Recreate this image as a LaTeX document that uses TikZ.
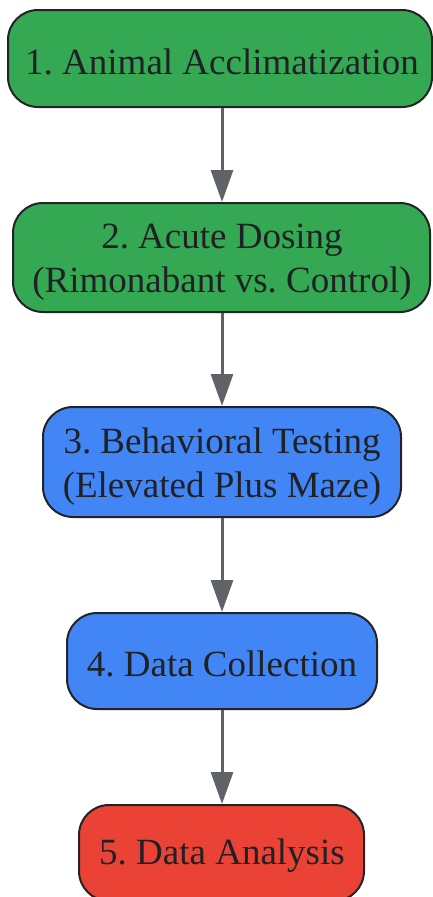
\documentclass[tikz,border=0pt]{standalone}
\usepackage{fontspec}
\setmainfont{Liberation Serif}
\frenchspacing
\usetikzlibrary{arrows.meta}
\definecolor{stepgreen}{HTML}{34A853}
\definecolor{stepblue}{HTML}{4285F4}
\definecolor{stepred}{HTML}{EA4335}
\definecolor{edgedark}{HTML}{222326}
\definecolor{arrowgray}{HTML}{5F6368}
\definecolor{textdark}{HTML}{202124}
\tikzset{
  stepbox/.style={draw=edgedark, line width=2pt, rounded corners=30pt,
    inner sep=0pt},
  steptext/.style={inner sep=0pt, align=center, text=textdark,
    font=\fontsize{37}{44}\selectfont},
  flowarrow/.style={draw=arrowgray, line width=3pt,
    -{Triangle[width=22pt,length=32pt]}}
}
\begin{document}
\begin{tikzpicture}[x=1pt,y=1pt]
\useasboundingbox (0,0) rectangle (433,-897);
\clip (0,0) rectangle (433,-897);
\node[stepbox, fill=stepgreen, minimum width=424pt, minimum height=97pt] (n1) at (220,-58.5) {};
\node[stepbox, fill=stepgreen, minimum width=417pt, minimum height=109pt] (n2) at (221.5,-257.5) {};
\node[stepbox, fill=stepblue, minimum width=358pt, minimum height=110pt] (n3) at (222,-462) {};
\node[stepbox, fill=stepblue, minimum width=310pt, minimum height=96pt] (n4) at (222,-661) {};
\node[stepbox, fill=stepred, minimum width=285pt, minimum height=96pt] (n5) at (221.5,-853) {};
\node[steptext] (t1) at ([yshift=-3pt]n1.center -| 222,0) {1. Animal Acclimatization};
\node[steptext] (t2) at ([yshift=-5pt]n2.center -| 222,0) {2. Acute Dosing\\(Rimonabant vs. Control)};
\node[steptext] (t3) at ([yshift=-5pt]n3.center -| 222,0) {3. Behavioral Testing\\(Elevated Plus Maze)};
\node[steptext] (t4) at ([yshift=-3pt]n4.center -| 222,0) {4. Data Collection};
\node[steptext] (t5) at ([yshift=-3pt]n5.center -| 222,0) {5. Data Analysis};
\draw[flowarrow] (n1.south -| 222,0) -- (n2.north -| 222,0);
\draw[flowarrow] (n2.south -| 222,0) -- (n3.north -| 222,0);
\draw[flowarrow] (n3.south -| 222,0) -- (n4.north -| 222,0);
\draw[flowarrow] (n4.south -| 222,0) -- (n5.north -| 222,0);
\end{tikzpicture}
\end{document}
